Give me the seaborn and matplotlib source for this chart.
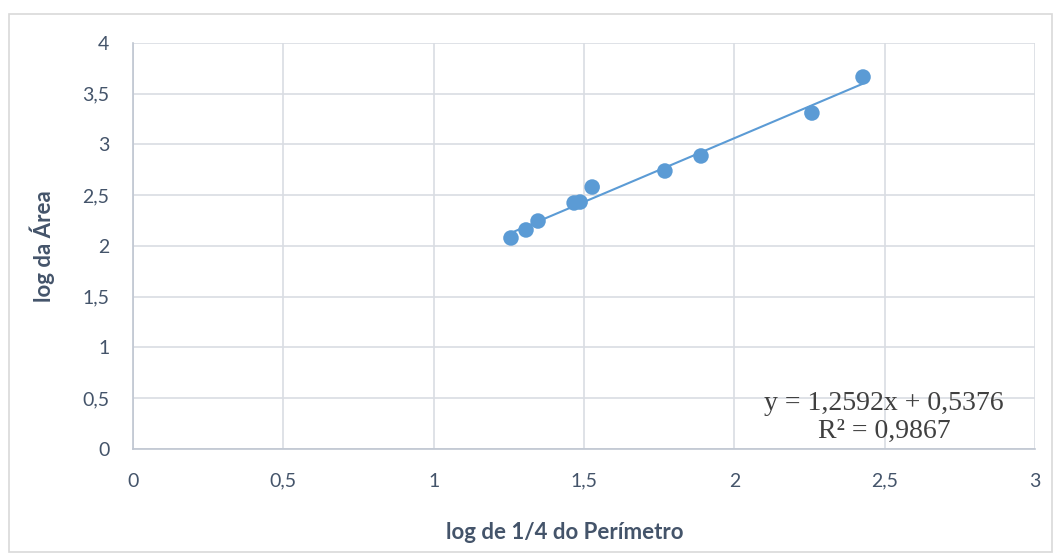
import matplotlib
matplotlib.use("Agg")
import matplotlib.pyplot as plt
import seaborn as sns
import pandas as pd
from matplotlib.ticker import FuncFormatter, MultipleLocator
from matplotlib.patches import Rectangle

# data
log_perimetro = [1.257, 1.307, 1.347, 1.467, 1.487, 1.527, 1.769, 1.889, 2.258, 2.428]
log_area = [2.079, 2.158, 2.246, 2.424, 2.433, 2.581, 2.739, 2.887, 3.310, 3.665]
equacao = "y = 1,2592x + 0,5376"
r2 = "R² = 0,9867"

df = pd.DataFrame({"x": log_perimetro, "y": log_area})

sns.set_theme(style="whitegrid")
plt.rcParams["font.family"] = ["Lato", "DejaVu Sans"]

blue = "#5B9BD5"
txt = "#44546A"

fig = plt.figure(figsize=(10.61, 5.57), dpi=100)
ax = fig.add_axes([0.1254, 0.1939, 0.8501, 0.7289])

# outer chart border
fig.patches.append(Rectangle((9 / 1061, 5 / 557), 1043 / 1061, 538 / 557,
                             transform=fig.transFigure, fill=False,
                             edgecolor="#D9D9D9", linewidth=1.2))

sns.regplot(data=df, x="x", y="y", ax=ax, ci=None, truncate=True,
            scatter_kws={"s": 125, "color": blue, "alpha": 1, "edgecolor": "none", "zorder": 3},
            line_kws={"color": blue, "linewidth": 1.5, "zorder": 2})

ax.set_xlim(0, 3)
ax.set_ylim(0, 4)
ax.xaxis.set_major_locator(MultipleLocator(0.5))
ax.yaxis.set_major_locator(MultipleLocator(0.5))
fmt = FuncFormatter(lambda v, p: ("%g" % v).replace(".", ","))
ax.xaxis.set_major_formatter(fmt)
ax.yaxis.set_major_formatter(fmt)

ax.grid(True, color="#D9DDE3", linewidth=1.2)
ax.tick_params(axis="both", length=0, labelsize=14, colors=txt, pad=17)
for s in ["top", "right"]:
    ax.spines[s].set_visible(False)
ax.spines["left"].set_color("#BFC6D1")
ax.spines["bottom"].set_color("#BFC6D1")
ax.spines["left"].set_linewidth(1.2)
ax.spines["bottom"].set_linewidth(1.2)

ax.set_xlabel("log de 1/4 do Perímetro", fontsize=16, fontweight="bold", color=txt)
ax.xaxis.set_label_coords(0.479, -0.181)
ax.set_ylabel("log da Área", fontsize=16, fontweight="bold", color=txt, labelpad=20)

ax.text(0.8326, 0.078, equacao + "\n" + r2, transform=ax.transAxes, ha="center", va="center",
        fontsize=20, family=["Liberation Serif", "DejaVu Serif"], color="#404040",
        linespacing=1.15)

fig.savefig("out.png", dpi=100)
